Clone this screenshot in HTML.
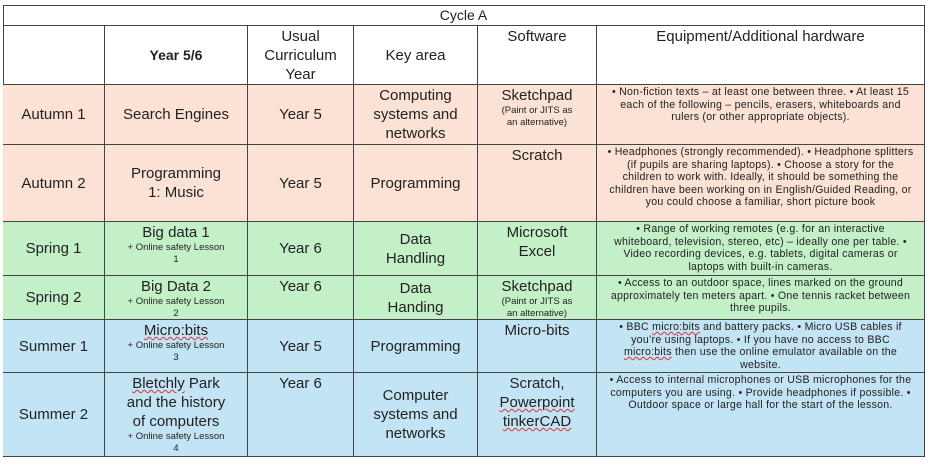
<!DOCTYPE html>
<html><head><meta charset="utf-8"><style>
body{margin:0;width:930px;height:468px;background:#fff;font-family:"Liberation Sans",sans-serif;color:#222;position:relative;overflow:hidden}
.c{position:absolute;box-sizing:border-box;border-right:1.5px solid #444;border-bottom:1.5px solid #444;display:flex;flex-direction:column;align-items:center;text-align:center;font-size:15px;line-height:19px;overflow:hidden}
.m{justify-content:center}.t{justify-content:flex-start;padding-top:1px}
.s{font-size:9.5px;line-height:12px}
.e{font-size:10.6px;line-height:12.6px;padding:1px 9px 0;letter-spacing:0.25px}
.a{background:#fbe2d5}.g{background:#c4f0c8}.b{background:#c3e4f4}
u{text-decoration:underline wavy #d33;text-decoration-thickness:1px}
</style></head><body>
<div style="position:absolute;left:3px;top:5px;width:922px;height:452px;border-top:1.5px solid #444;border-left:1.5px solid #444;box-sizing:border-box"></div>
<div class="c m" style="left:3px;top:6px;width:922px;height:20px;font-size:14px">Cycle A</div>

<div class="c m" style="left:3px;top:26px;width:102px;height:59px"></div>
<div class="c m" style="left:105px;top:26px;width:143px;height:59px;font-weight:bold;font-size:14px">Year 5/6</div>
<div class="c m" style="left:248px;top:26px;width:106px;height:59px">Usual<br>Curriculum<br>Year</div>
<div class="c m" style="left:354px;top:26px;width:124px;height:59px">Key area</div>
<div class="c t" style="left:478px;top:26px;width:119px;height:59px">Software</div>
<div class="c t" style="left:597px;top:26px;width:328px;height:59px">Equipment/Additional hardware</div>

<div class="c m a" style="left:3px;top:85px;width:102px;height:60px">Autumn 1</div>
<div class="c m a" style="left:105px;top:85px;width:143px;height:60px">Search Engines</div>
<div class="c m a" style="left:248px;top:85px;width:106px;height:60px">Year 5</div>
<div class="c m a" style="left:354px;top:85px;width:124px;height:60px">Computing<br>systems and<br>networks</div>
<div class="c t a" style="left:478px;top:85px;width:119px;height:60px">Sketchpad<div class="s">(Paint or JITS as<br>an alternative)</div></div>
<div class="c t a e" style="left:597px;top:85px;width:328px;height:60px"><div>• Non-fiction texts – at least one between three. • At least 15 each of the following – pencils, erasers, whiteboards and rulers (or other appropriate objects).</div></div>

<div class="c m a" style="left:3px;top:145px;width:102px;height:77px">Autumn 2</div>
<div class="c m a" style="left:105px;top:145px;width:143px;height:77px">Programming<br>1: Music</div>
<div class="c m a" style="left:248px;top:145px;width:106px;height:77px">Year 5</div>
<div class="c m a" style="left:354px;top:145px;width:124px;height:77px">Programming</div>
<div class="c t a" style="left:478px;top:145px;width:119px;height:77px">Scratch</div>
<div class="c t a e" style="left:597px;top:145px;width:328px;height:77px"><div>• Headphones (strongly recommended). • Headphone splitters (if pupils are sharing laptops). • Choose a story for the children to work with. Ideally, it should be something the children have been working on in English/Guided Reading, or you could choose a familiar, short picture book</div></div>

<div class="c m g" style="left:3px;top:222px;width:102px;height:54px">Spring 1</div>
<div class="c t g" style="left:105px;top:222px;width:143px;height:54px">Big data 1<div class="s">+ Online safety Lesson<br>1</div></div>
<div class="c m g" style="left:248px;top:222px;width:106px;height:54px">Year 6</div>
<div class="c m g" style="left:354px;top:222px;width:124px;height:54px">Data<br>Handling</div>
<div class="c t g" style="left:478px;top:222px;width:119px;height:54px">Microsoft<br>Excel</div>
<div class="c t g e" style="left:597px;top:222px;width:328px;height:54px"><div>• Range of working remotes (e.g. for an interactive whiteboard, television, stereo, etc) – ideally one per table. • Video recording devices, e.g. tablets, digital cameras or laptops with built-in cameras.</div></div>

<div class="c m g" style="left:3px;top:276px;width:102px;height:44px">Spring 2</div>
<div class="c t g" style="left:105px;top:276px;width:143px;height:44px">Big Data 2<div class="s">+ Online safety Lesson<br>2</div></div>
<div class="c t g" style="left:248px;top:276px;width:106px;height:44px">Year 6</div>
<div class="c m g" style="left:354px;top:276px;width:124px;height:44px">Data<br>Handing</div>
<div class="c t g" style="left:478px;top:276px;width:119px;height:44px">Sketchpad<div class="s">(Paint or JITS as<br>an alternative)</div></div>
<div class="c t g e" style="left:597px;top:276px;width:328px;height:44px"><div>• Access to an outdoor space, lines marked on the ground approximately ten meters apart. • One tennis racket between three pupils.</div></div>

<div class="c m b" style="left:3px;top:320px;width:102px;height:53px">Summer 1</div>
<div class="c t b" style="left:105px;top:320px;width:143px;height:53px"><div><u>Micro:bits</u></div><div class="s">+ Online safety Lesson<br>3</div></div>
<div class="c m b" style="left:248px;top:320px;width:106px;height:53px">Year 5</div>
<div class="c m b" style="left:354px;top:320px;width:124px;height:53px">Programming</div>
<div class="c t b" style="left:478px;top:320px;width:119px;height:53px">Micro-bits</div>
<div class="c t b e" style="left:597px;top:320px;width:328px;height:53px"><div>• BBC <u>micro:bits</u> and battery packs. • Micro USB cables if you’re using laptops. • If you have no access to BBC <u>micro:bits</u> then use the online emulator available on the website.</div></div>

<div class="c m b" style="left:3px;top:373px;width:102px;height:84px">Summer 2</div>
<div class="c t b" style="left:105px;top:373px;width:143px;height:84px"><div><u>Bletchly</u> Park<br>and the history<br>of computers</div><div class="s">+ Online safety Lesson<br>4</div></div>
<div class="c t b" style="left:248px;top:373px;width:106px;height:84px">Year 6</div>
<div class="c m b" style="left:354px;top:373px;width:124px;height:84px">Computer<br>systems and<br>networks</div>
<div class="c t b" style="left:478px;top:373px;width:119px;height:84px;padding-top:1px"><div>Scratch,<br><u>Powerpoint</u><br><u>tinkerCAD</u></div></div>
<div class="c t b e" style="left:597px;top:373px;width:328px;height:84px"><div>• Access to internal microphones or USB microphones for the computers you are using. • Provide headphones if possible. • Outdoor space or large hall for the start of the lesson.</div></div>
</body></html>
